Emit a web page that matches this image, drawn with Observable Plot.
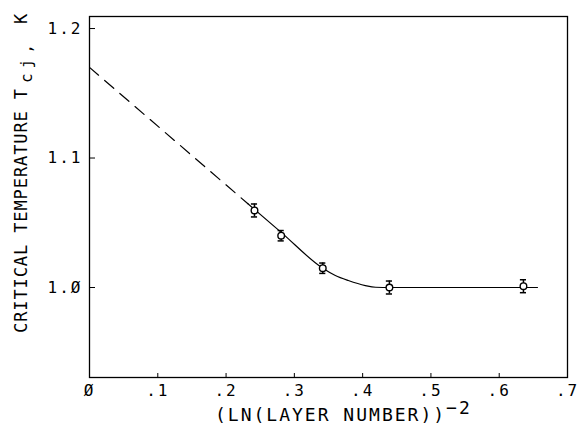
<!DOCTYPE html>
<html><head><meta charset="utf-8">
<script src="https://cdn.jsdelivr.net/npm/d3@7"></script>
<script src="https://cdn.jsdelivr.net/npm/@observablehq/plot@0.6"></script>
<style>
body{margin:0;background:#fff}
#chart svg{display:block}
</style>
</head><body><div id="chart"></div>
<script>
// measured points
const layerX   = [0.2416, 0.2807, 0.3416, 0.4392, 0.6355];
const tcValues = [1.0595, 1.0400, 1.0149, 1.0000, 1.0010];
const tcErrors = [0.005, 0.004, 0.004, 0.005, 0.005];
// extrapolated (dashed) part of the fit
const dashedX = [0, 0.232];
const dashedY = [1.170, 1.0647];
// solid fitted curve
const fitX = [0.232, 0.2807, 0.3416, 0.360, 0.379, 0.404, 0.419, 0.440, 0.656];
const fitY = [1.0647, 1.0426, 1.0149, 1.0093, 1.0054, 1.0015, 1.0002, 1.0000, 1.0000];
// ticks
const xTicks = [0, 0.1, 0.2, 0.3, 0.4, 0.5, 0.6, 0.7];
const xTickLabels = ["Ø", ".1", ".2", ".3", ".4", ".5", ".6", ".7"];
const yTicks = [1.0, 1.1, 1.2];
const yTickLabels = ["1.Ø", "1.1", "1.2"];

const points = layerX.map((x, i) => ({x, y: tcValues[i], e: tcErrors[i]}));
const dashed = dashedX.map((x, i) => ({x, y: dashedY[i]}));
const fit = fitX.map((x, i) => ({x, y: fitY[i]}));

const W = 583, H = 426;
const mL = 89, mR = 16, mT = 16, mB = 49;
const innerW = W - mL - mR, innerH = H - mT - mB;
const font = "'DejaVu Sans Mono', monospace";

const chart = Plot.plot({
  width: W, height: H,
  marginLeft: mL, marginRight: mR, marginTop: mT, marginBottom: mB,
  style: {fontFamily: font, fontSize: "16px", color: "#000", background: "#fff"},
  x: {domain: [0, 0.7]},
  y: {domain: [0.9305, 1.2093]},
  marks: [
    Plot.line(dashed, {x: "x", y: "y", stroke: "#000", strokeWidth: 1.2, strokeDasharray: "12,8"}),
    Plot.line(fit, {x: "x", y: "y", stroke: "#000", strokeWidth: 1.2, curve: "monotone-x"}),
    Plot.ruleX(points, {x: "x", y1: d => d.y - d.e, y2: d => d.y + d.e, stroke: "#000", strokeWidth: 1.5}),
    Plot.ruleY(points, {y: d => d.y - d.e, x1: d => d.x - 0.0045, x2: d => d.x + 0.0045, stroke: "#000", strokeWidth: 1.5}),
    Plot.ruleY(points, {y: d => d.y + d.e, x1: d => d.x - 0.0045, x2: d => d.x + 0.0045, stroke: "#000", strokeWidth: 1.5}),
    Plot.dot(points, {x: "x", y: "y", r: 3.3, fill: "#fff", stroke: "#000", strokeWidth: 1.4}),
    Plot.tickX(xTicks, {x: d => d, insetTop: innerH - 4, stroke: "#000", strokeWidth: 1}),
    Plot.tickY(yTicks, {y: d => d, insetRight: innerW - 6, stroke: "#000", strokeWidth: 1}),
    Plot.frame({stroke: "#000", strokeWidth: 1.3}),
    Plot.axisX(xTicks, {tickSize: 0, tickPadding: 7, tickFormat: (d, i) => xTickLabels[i], fontSize: 16, label: null}),
    Plot.axisY(yTicks, {tickSize: 0, tickPadding: 7, tickFormat: (d, i) => yTickLabels[i], fontSize: 16, label: null})
  ]
});
document.getElementById("chart").appendChild(chart);

const svg = d3.select(chart);
svg.selectAll("g[aria-label='x-axis tick label'] text, g[aria-label='y-axis tick label'] text")
  .style("letter-spacing", "2px");

// x axis title
const xt = svg.append("text")
  .attr("x", 215).attr("y", 421)
  .attr("text-anchor", "start")
  .attr("font-family", font).attr("font-size", 18)
  .style("letter-spacing", "2px").attr("fill", "#000");
xt.append("tspan").text("(LN(LAYER NUMBER))");
xt.append("tspan").attr("dy", -7).text("−2");

// y axis title
const yt = svg.append("text")
  .attr("transform", "translate(27,333) rotate(-90)")
  .attr("text-anchor", "start")
  .attr("font-family", font).attr("font-size", 17)
  .style("letter-spacing", "0.9px").attr("fill", "#000");
yt.append("tspan").text("CRITICAL TEMPERATURE T");
yt.append("tspan").attr("dx", 5).attr("dy", 5).attr("font-size", 16)
  .style("letter-spacing", "5px").text("cj,");
yt.append("tspan").attr("dx", 4).attr("dy", -5).style("letter-spacing", "1px").text(" K");
</script>
</body></html>
